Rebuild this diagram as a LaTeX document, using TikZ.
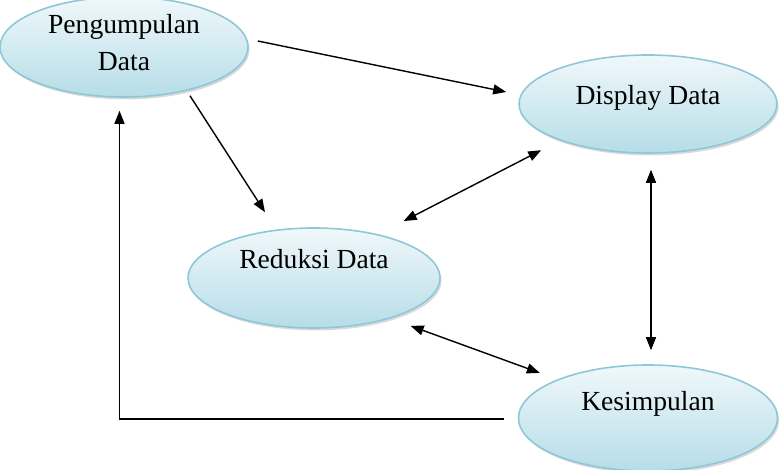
\documentclass[tikz,border=0pt]{standalone}
\usepackage{fontspec}
\setmainfont{Liberation Serif}
\usepackage{xcolor}
\usepackage{tikz}
\usetikzlibrary{arrows.meta, shapes.geometric, shadows}

\definecolor{aquaTop}{HTML}{F0F8FA}
\definecolor{aquaBot}{HTML}{B6DDE8}
\definecolor{aquaLine}{HTML}{8EC8D8}

\tikzset{
  blob/.style={ellipse, inner sep=0pt, draw=aquaLine, line width=0.8pt,
    top color=aquaTop, bottom color=aquaBot,
    drop shadow={shadow xshift=0.8pt, shadow yshift=-1.2pt, opacity=0.3}},
  link/.style={line width=0.7pt, -{Triangle[length=6.5pt, width=5pt]}},
  dlink/.style={line width=0.7pt, {Triangle[length=6.5pt, width=5pt]}-{Triangle[length=6.5pt, width=5pt]}}
}

\begin{document}
\begin{tikzpicture}[x=0.5pt, y=-0.5pt, font=\fontsize{13.8}{18.5}\selectfont]
  \useasboundingbox (0,0) rectangle (784,470);
  \node[blob, minimum width=124pt, minimum height=50pt,
        label={[align=center, yshift=2pt]center:Pengumpulan\\Data}] (pd) at (124,47) {};
  \node[blob, minimum width=129pt, minimum height=49pt,
        label={[yshift=3pt]center:Display Data}] (dd) at (648,104) {};
  \node[blob, minimum width=126pt, minimum height=50pt,
        label={[yshift=9.5pt]center:Reduksi Data}] (rd) at (314,278) {};
  \node[blob, minimum width=129.5pt, minimum height=53pt,
        label={[yshift=7pt]center:Kesimpulan}] (kd) at (648,418) {};

  \draw[link] ([xshift=4.5pt, yshift=3pt]pd.east) -- ([xshift=-6pt, yshift=6pt]dd.west);
  \draw[link] ([xshift=33pt, yshift=1pt]pd.south) -- ([xshift=-24.5pt, yshift=7.5pt]rd.north);
  \draw[dlink] ([xshift=-7.5pt, yshift=-5.5pt]dd.south west) -- ([yshift=10.5pt]rd.north east);
  \draw[dlink] ([xshift=1.5pt, yshift=-8pt]dd.south) -- ([xshift=1.5pt, yshift=7pt]kd.north);
  \draw[dlink] ([xshift=3.5pt, yshift=-6pt]rd.south east) -- ([xshift=-8pt, yshift=3.5pt]kd.north west);
  \draw[link] ([xshift=-6.75pt, yshift=-0.5pt]kd.west) -| ([xshift=-2.25pt, yshift=-6.5pt]pd.south);
\end{tikzpicture}
\end{document}
